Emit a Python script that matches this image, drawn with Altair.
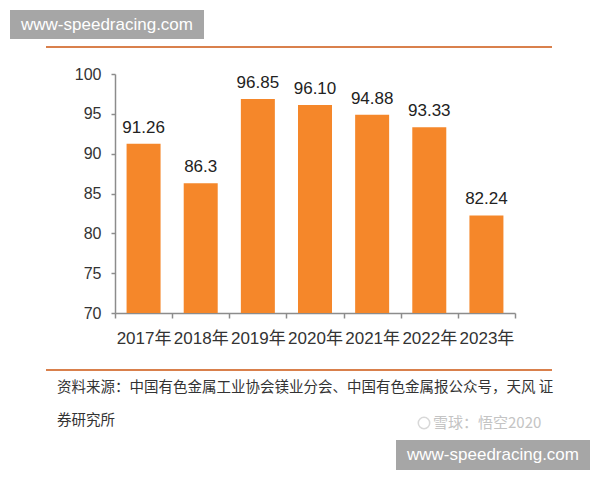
import altair as alt
import pandas as pd

years = ["2017年", "2018年", "2019年", "2020年", "2021年", "2022年", "2023年"]
values = [91.26, 86.3, 96.85, 96.10, 94.88, 93.33, 82.24]
labels = ["91.26", "86.3", "96.85", "96.10", "94.88", "93.33", "82.24"]
y_ticks = [70, 75, 80, 85, 90, 95, 100]
source_line1 = "资料来源：中国有色金属工业协会镁业分会、中国有色金属报公众号，天风 证"
source_line2 = "券研究所"
watermark_site = "www-speedracing.com"
watermark_user = "雪球：悟空2020"

df = pd.DataFrame({"year": years, "value": values, "label": labels})
one = pd.DataFrame({"a": [0]})

FONT = "Liberation Sans, Arial, Noto Sans CJK SC"
CJK = "Noto Sans CJK SC"
BAR = "#F5872A"
LINE = "#D9804C"
AXIS = "#8C8C8C"

x_enc = alt.X(
    "year:N",
    sort=None,
    scale=alt.Scale(paddingInner=0, paddingOuter=0),
    axis=alt.Axis(
        title=None,
        labelAngle=0,
        labelFontSize=17,
        labelFont=FONT,
        labelColor="#333333",
        labelPadding=12,
        labelOverlap=False,
        tickBand="extent",
        tickSize=5,
        tickColor=AXIS,
        tickWidth=1.5,
        domainColor=AXIS,
        domainWidth=1.5,
    ),
)
y_enc = alt.Y(
    "value:Q",
    scale=alt.Scale(domain=[70, 100], zero=False, nice=False),
    axis=alt.Axis(
        title=None,
        values=y_ticks,
        labelFontSize=16,
        labelFont=FONT,
        labelColor="#333333",
        labelPadding=10,
        labelOverlap=False,
        labelFlush=False,
        labelBound=False,
        tickSize=4,
        tickColor=AXIS,
        tickWidth=1.5,
        domainColor=AXIS,
        domainWidth=1.5,
        grid=False,
    ),
)

base = alt.Chart(df).encode(x=x_enc, y=y_enc)

bars = base.mark_bar(size=34, color=BAR).encode(y2=alt.datum(70))

bar_text = base.mark_text(
    fontSize=17, font=FONT, color="#222222", baseline="alphabetic", dy=-11
).encode(text="label:N")

deco = alt.Chart(one)

box_tl = deco.mark_rect(color="#A6A6A6").encode(
    x=alt.value(-105), x2=alt.value(89), y=alt.value(-64), y2=alt.value(-35)
)
box_tl_text = deco.mark_text(
    fontSize=17, font=FONT, color="#FFFFFF", align="center", baseline="middle"
).encode(x=alt.value(-8), y=alt.value(-49), text=alt.value(watermark_site))

top_line = deco.mark_rule(color=LINE, strokeWidth=2).encode(
    x=alt.value(-69), x2=alt.value(437), y=alt.value(-27)
)
bottom_line = deco.mark_rule(color=LINE, strokeWidth=2).encode(
    x=alt.value(-69), x2=alt.value(437), y=alt.value(296)
)

src1 = deco.mark_text(
    fontSize=14.5, font=CJK, color="#333333", align="left", baseline="middle"
).encode(x=alt.value(-58), y=alt.value(314), text=alt.value(source_line1))
src2 = deco.mark_text(
    fontSize=14.5, font=CJK, color="#333333", align="left", baseline="middle"
).encode(x=alt.value(-58), y=alt.value(347), text=alt.value(source_line2))

logo = deco.mark_point(shape="circle", filled=False, size=130, color="#C8C8C8", strokeWidth=1.5).encode(
    x=alt.value(309), y=alt.value(349)
)
user_text = deco.mark_text(
    fontSize=15, font=CJK, color="#C4C4C4", align="left", baseline="middle"
).encode(x=alt.value(318), y=alt.value(349), text=alt.value(watermark_user))

box_br = deco.mark_rect(color="#A6A6A6").encode(
    x=alt.value(281), x2=alt.value(475), y=alt.value(366), y2=alt.value(396)
)
box_br_text = deco.mark_text(
    fontSize=17, font=FONT, color="#FFFFFF", align="center", baseline="middle"
).encode(x=alt.value(378), y=alt.value(381), text=alt.value(watermark_site))

chart = (
    alt.layer(
        bars, bar_text, box_tl, box_tl_text, top_line, bottom_line,
        src1, src2, logo, user_text, box_br, box_br_text
    )
    .properties(
        width=400,
        height=239,
        autosize=alt.AutoSizeParams(type="none"),
        padding={"left": 107, "top": 66, "right": 77, "bottom": 160},
        background="#FFFFFF",
    )
    .configure_view(stroke=None)
)

chart.save("out.html", embed_options={"renderer": "svg", "actions": False})
